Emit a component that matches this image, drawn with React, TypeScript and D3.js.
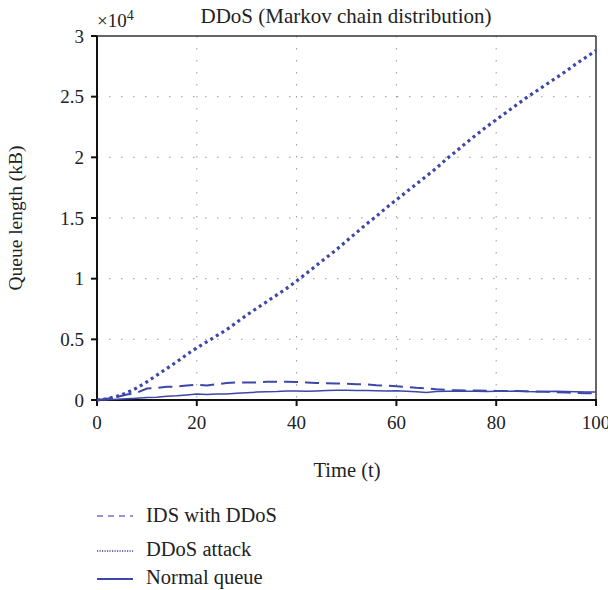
import React from "react";
import * as d3 from "d3";

const timeSteps = [0,2,4,6,8,10,12,14,16,18,20,22,24,26,28,30,32,34,36,38,40,42,44,46,48,50,52,54,56,58,60,62,64,66,68,70,72,74,76,78,80,82,84,86,88,90,92,94,96,98,100];

const ddosAttack = [0,0.01,0.03,0.06,0.1,0.15,0.205,0.26,0.315,0.375,0.43,0.48,0.53,0.58,0.64,0.7,0.755,0.81,0.865,0.92,0.98,1.045,1.11,1.175,1.24,1.31,1.38,1.45,1.515,1.585,1.65,1.715,1.78,1.845,1.91,1.985,2.05,2.12,2.185,2.25,2.31,2.37,2.43,2.49,2.545,2.6,2.655,2.71,2.77,2.825,2.88];

const idsWithDdos = [0,0.01,0.025,0.045,0.06,0.095,0.1,0.11,0.11,0.12,0.125,0.12,0.13,0.14,0.145,0.145,0.145,0.15,0.15,0.15,0.148,0.145,0.14,0.138,0.135,0.135,0.13,0.128,0.122,0.118,0.114,0.108,0.1,0.095,0.088,0.083,0.08,0.078,0.078,0.076,0.075,0.074,0.074,0.072,0.07,0.068,0.065,0.062,0.058,0.055,0.055];

const normalQueue = [0,0.003,0.006,0.01,0.015,0.02,0.022,0.03,0.035,0.042,0.05,0.045,0.05,0.05,0.055,0.06,0.065,0.068,0.07,0.074,0.075,0.073,0.075,0.078,0.08,0.08,0.078,0.078,0.076,0.075,0.076,0.072,0.068,0.062,0.07,0.072,0.072,0.072,0.072,0.07,0.072,0.072,0.074,0.07,0.068,0.07,0.072,0.07,0.068,0.066,0.065];

const xTicks = [0, 20, 40, 60, 80, 100];
const yTicks = [0, 0.5, 1, 1.5, 2, 2.5, 3];
const yTickLabels = ["0", "0.5", "1", "1.5", "2", "2.5", "3"];
const legendLabels = ["IDS with DDoS", "DDoS attack", "Normal queue"];

const COLOR = "#3d47a8";
const FONT = "Liberation Serif, Times New Roman, Tinos, Noto Serif, DejaVu Serif, serif";

export default function App() {
  const left = 97, right = 596, top = 36, bottom = 400;
  const x = d3.scaleLinear().domain([0, 100]).range([left, right]);
  const y = d3.scaleLinear().domain([0, 3]).range([bottom, top]);
  const line = (vals: number[]) =>
    d3.line<number>().x((_, i) => x(timeSteps[i])).y((d) => y(d))(vals) || "";

  const legendRows = [
    { label: legendLabels[0], y: 516, dash: "6 5", w: 1.5, color: "#6e76c2" },
    { label: legendLabels[1], y: 551, dash: "1.2 1.3", w: 1.5, color: COLOR },
    { label: legendLabels[2], y: 579, dash: "", w: 2, color: COLOR },
  ];
  const legendTextY = [522, 556, 584];
  const ts = { fontFamily: FONT };

  return (
    <svg width={608} height={590} style={{ position: "absolute", left: 0, top: 0, background: "#fff", fontFamily: FONT }}>
      <rect x={0} y={0} width={608} height={590} fill="#fff" />
      {xTicks.slice(1, -1).map((t) => (
        <line key={"gx" + t} x1={x(t)} x2={x(t)} y1={top} y2={bottom} stroke="#999" strokeWidth={1} strokeDasharray="1.5 10.5" />
      ))}
      {yTicks.slice(1, -1).map((t) => (
        <line key={"gy" + t} x1={left} x2={right} y1={y(t)} y2={y(t)} stroke="#999" strokeWidth={1} strokeDasharray="1.5 10.5" />
      ))}
      <line x1={left} x2={right} y1={top} y2={top} stroke="#333" strokeWidth={1.5} />
      <line x1={right} x2={right} y1={top} y2={bottom} stroke="#333" strokeWidth={1.5} />
      <line x1={left} x2={left} y1={top} y2={bottom + 1} stroke="#111" strokeWidth={2} />
      <line x1={left - 1} x2={right + 1} y1={bottom} y2={bottom} stroke="#111" strokeWidth={2} />
      {yTicks.map((t, i) => (
        <g key={"yt" + t}>
          <line x1={left - 6} x2={left} y1={y(t)} y2={y(t)} stroke="#111" strokeWidth={2} />
          <text style={ts} x={84} y={y(t) + 6.5} textAnchor="end" fontSize={19} fill="#222">{yTickLabels[i]}</text>
        </g>
      ))}
      {xTicks.map((t) => (
        <g key={"xt" + t}>
          <line x1={x(t)} x2={x(t)} y1={bottom} y2={bottom + 6} stroke="#111" strokeWidth={2} />
          <text style={ts} x={x(t)} y={429} textAnchor="middle" fontSize={19} fill="#222">{t}</text>
        </g>
      ))}
      <path d={line(normalQueue)} fill="none" stroke={COLOR} strokeWidth={1.5} />
      <path d={line(idsWithDdos)} fill="none" stroke={COLOR} strokeWidth={2} strokeDasharray="14 7" />
      <path d={line(ddosAttack)} fill="none" stroke={COLOR} strokeWidth={3.2} strokeDasharray="3 3.5" />
      <text style={ts} x={97} y={27} fontSize={19} fill="#222">×10<tspan dy={-7} fontSize={14}>4</tspan></text>
      <text style={ts} x={346} y={23} textAnchor="middle" fontSize={21} fill="#222">DDoS (Markov chain distribution)</text>
      <text style={ts} x={347} y={477} textAnchor="middle" fontSize={20.5} fill="#222">Time (t)</text>
      <text style={ts} transform={`translate(22,218) rotate(-90)`} textAnchor="middle" fontSize={19.5} fill="#222">Queue length (kB)</text>
      {legendRows.map((r, i) => (
        <g key={"lg" + i}>
          <line x1={97} x2={133} y1={r.y} y2={r.y} stroke={r.color} strokeWidth={r.w} strokeDasharray={r.dash} />
          <text style={ts} x={146} y={legendTextY[i]} fontSize={20.5} fill="#222">{r.label}</text>
        </g>
      ))}
    </svg>
  );
}
